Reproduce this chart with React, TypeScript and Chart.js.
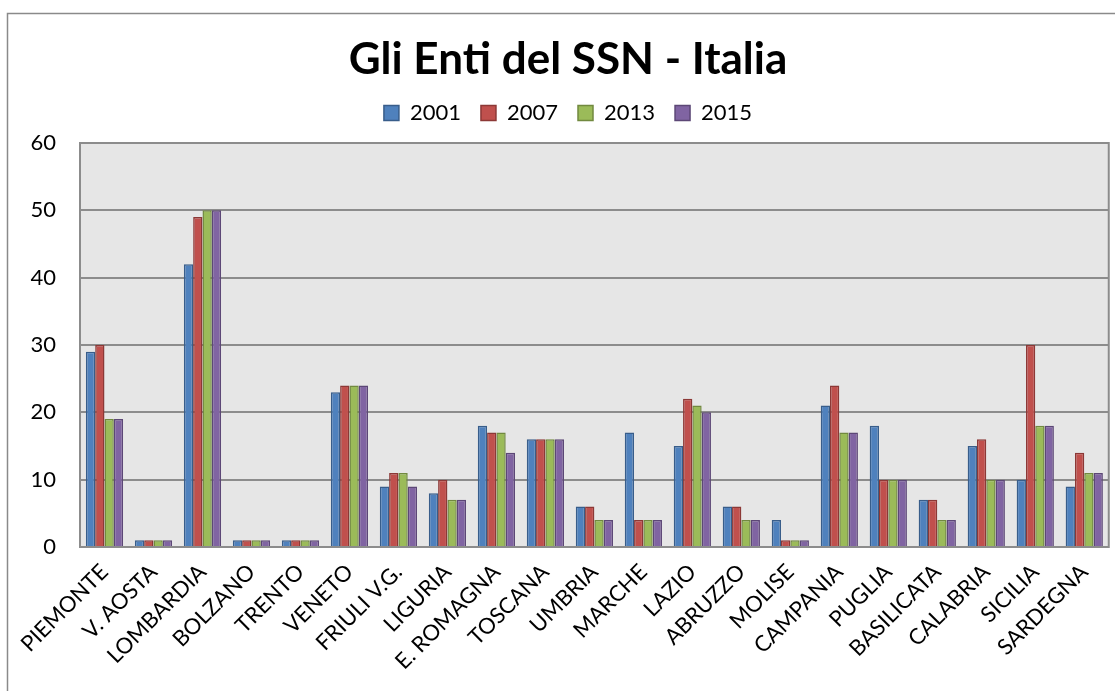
import React, { useEffect, useRef } from "react";
import { Chart, registerables } from "chart.js";

Chart.register(...registerables);

const categories = [
  "PIEMONTE", "V. AOSTA", "LOMBARDIA", "BOLZANO", "TRENTO", "VENETO", "FRIULI V.G.",
  "LIGURIA", "E. ROMAGNA", "TOSCANA", "UMBRIA", "MARCHE", "LAZIO", "ABRUZZO",
  "MOLISE", "CAMPANIA", "PUGLIA", "BASILICATA", "CALABRIA", "SICILIA", "SARDEGNA",
];

const series2001 = [29, 1, 42, 1, 1, 23, 9, 8, 18, 16, 6, 17, 15, 6, 4, 21, 18, 7, 15, 10, 9];
const series2007 = [30, 1, 49, 1, 1, 24, 11, 10, 17, 16, 6, 4, 22, 6, 1, 24, 10, 7, 16, 30, 14];
const series2013 = [19, 1, 50, 1, 1, 24, 11, 7, 17, 16, 4, 4, 21, 4, 1, 17, 10, 4, 10, 18, 11];
const series2015 = [19, 1, 50, 1, 1, 24, 9, 7, 14, 16, 4, 4, 20, 4, 1, 17, 10, 4, 10, 18, 11];

const seriesLabels = ["2001", "2007", "2013", "2015"];
const yTicks = [0, 10, 20, 30, 40, 50, 60];

const FONT = "Lato, 'Open Sans', sans-serif";

export default function App() {
  const ref = useRef<HTMLCanvasElement | null>(null);

  useEffect(() => {
    if (!ref.current) return;
    const fills = ["#4f81bd", "#c0504d", "#9bbb59", "#8064a2"];
    const borders = ["#385d8a", "#8c3836", "#71893f", "#5c4776"];
    const data = [series2001, series2007, series2013, series2015];

    const legendExtra = {
      id: "legendExtra",
      beforeInit(chart: any) {
        const lg = chart.legend;
        if (lg && !lg._patched) {
          const orig = lg.fit.bind(lg);
          lg.fit = function () {
            orig();
            this.height += 9;
          };
          lg._patched = true;
        }
      },
    };

    const bgPlugin = {
      id: "bg",
      beforeDraw(chart: any) {
        const { ctx, chartArea: a, width, height } = chart;
        ctx.save();
        ctx.fillStyle = "#ffffff";
        ctx.fillRect(0, 0, width, height);
        ctx.strokeStyle = "#8a8a8a";
        ctx.lineWidth = 1.5;
        ctx.beginPath();
        ctx.moveTo(7.5, height + 5);
        ctx.lineTo(7.5, 13.5);
        ctx.lineTo(width + 5, 13.5);
        ctx.stroke();
        ctx.fillStyle = "#e6e6e6";
        ctx.fillRect(a.left, a.top, a.right - a.left, a.bottom - a.top);
        ctx.restore();
      },
      afterDraw(chart: any) {
        const { ctx, chartArea: a } = chart;
        ctx.save();
        ctx.strokeStyle = "#8c8c8c";
        ctx.lineWidth = 2;
        ctx.strokeRect(a.left, a.top, a.right - a.left, a.bottom - a.top);
        ctx.restore();
      },
    };

    const chart = new Chart(ref.current, {
      type: "bar",
      data: {
        labels: categories,
        datasets: seriesLabels.map((l, i) => ({
          label: l,
          data: data[i],
          backgroundColor: fills[i],
          borderColor: borders[i],
          borderWidth: 1.5,
          categoryPercentage: 0.76,
          barPercentage: 1,
        })),
      },
      options: {
        responsive: false,
        animation: false,
        layout: { padding: { left: 24, right: 3, top: 0, bottom: 0 } },
        plugins: {
          title: {
            display: true,
            text: "Gli Enti del SSN - Italia",
            color: "#000",
            font: { family: FONT, size: 44, weight: "bold", lineHeight: 1 },
            padding: { top: 38, bottom: 0 },
          },
          legend: {
            display: true,
            labels: {
              color: "#000",
              font: { family: FONT, size: 22 },
              boxWidth: 15,
              boxHeight: 15,
              padding: 20,
            },
          },
          tooltip: { enabled: false },
        },
        scales: {
          x: {
            grid: { display: false, drawTicks: false },
            border: { display: true, color: "#8c8c8c", width: 2 },
            ticks: {
              color: "#000",
              font: { family: FONT, size: 22 },
              autoSkip: false,
              maxRotation: 45,
              minRotation: 45,
              padding: 12,
            },
            afterFit(scale: any) {
              scale.height = 144;
            },
          },
          y: {
            min: 0,
            max: 60,
            afterBuildTicks(scale: any) {
              scale.ticks = yTicks.map((v) => ({ value: v }));
            },
            grid: { color: "#8c8c8c", lineWidth: 2, drawTicks: false },
            border: { display: true, color: "#8c8c8c", width: 2 },
            ticks: {
              color: "#000",
              font: { family: FONT, size: 22 },
              padding: 24,
            },
            afterFit(scale: any) {
              scale.width = 56;
            },
          },
        },
      },
      plugins: [legendExtra, bgPlugin],
    });
    return () => chart.destroy();
  }, []);

  return (
    <div style={{ position: "fixed", left: 0, top: 0, width: 1115, height: 691, overflow: "hidden" }}>
      <canvas ref={ref} width={1115} height={691} style={{ display: "block" }} />
    </div>
  );
}
